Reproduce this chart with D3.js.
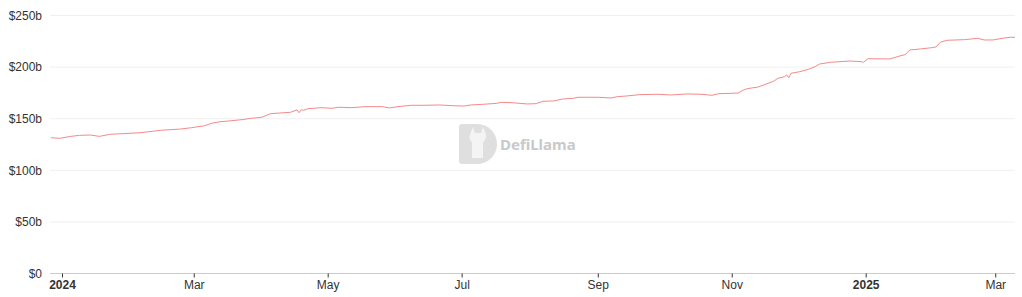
<!DOCTYPE html>
<html>
<head>
<meta charset="utf-8">
<script src="https://cdn.jsdelivr.net/npm/d3@7"></script>
<style>
  body { margin: 0; background: #fff; }
  svg { display: block; font-family: "Noto Sans", sans-serif; }
  .tick text { fill: #333; font-size: 12px; }
</style>
</head>
<body>
<svg width="1022" height="297"></svg>
<script>
// TVL in $b
const dates = [
  '2023-12-27','2023-12-31','2024-01-05','2024-01-09','2024-01-14','2024-01-18','2024-01-23',
  '2024-02-01','2024-02-06','2024-02-15','2024-02-24','2024-02-29','2024-03-06','2024-03-09',
  '2024-03-13','2024-03-17','2024-03-23','2024-03-27','2024-04-01','2024-04-05','2024-04-09',
  '2024-04-14','2024-04-17','2024-04-18','2024-04-19','2024-04-20','2024-04-22','2024-04-28',
  '2024-05-03','2024-05-06','2024-05-12','2024-05-18','2024-05-26','2024-05-29','2024-06-02',
  '2024-06-08','2024-06-13','2024-06-21','2024-06-27','2024-07-02','2024-07-05','2024-07-11',
  '2024-07-17','2024-07-19','2024-07-24','2024-07-31','2024-08-04','2024-08-07','2024-08-12',
  '2024-08-16','2024-08-21','2024-08-23','2024-09-01','2024-09-07','2024-09-10','2024-09-14',
  '2024-09-20','2024-09-28','2024-10-04','2024-10-12','2024-10-18','2024-10-23','2024-10-26',
  '2024-11-04','2024-11-06','2024-11-08','2024-11-13','2024-11-17','2024-11-20','2024-11-22',
  '2024-11-25','2024-11-26','2024-11-27','2024-11-28','2024-12-02','2024-12-06','2024-12-09',
  '2024-12-11','2024-12-16','2024-12-25','2024-12-30','2024-12-31','2025-01-02','2025-01-12',
  '2025-01-17','2025-01-19','2025-01-21','2025-01-26','2025-01-31','2025-02-02','2025-02-04',
  '2025-02-07','2025-02-15','2025-02-21','2025-02-24','2025-02-28','2025-03-05','2025-03-08',
  '2025-03-10'
];
const tvl = [
  131.1,130.5,132.4,133.4,133.7,132.4,134.4,
  135.4,136.0,138.3,139.5,140.8,142.7,145.0,
  146.6,147.3,148.6,149.9,150.9,154.4,155.0,
  155.7,158.0,155.3,158.3,157.7,159.2,160.2,
  159.6,160.6,160.2,161.2,161.2,159.9,161.2,
  162.5,162.5,162.8,162.1,161.8,162.8,163.5,
  164.4,165.4,165.0,163.8,164.1,166.4,166.7,
  168.6,169.3,170.3,170.3,169.6,170.9,171.5,
  172.8,173.2,172.5,173.5,173.2,172.2,173.7,
  174.4,177.0,178.6,180.2,183.4,185.7,188.6,
  190.2,191.9,189.2,193.5,195.1,197.4,200.0,
  202.5,204.2,205.4,204.8,204.2,207.6,207.4,
  210.6,211.6,216.1,217.1,218.3,219.0,223.6,
  225.5,226.1,227.4,225.8,225.8,227.7,228.4,
  228.4
];
const yTicks = [0, 50, 100, 150, 200, 250];
const xTicks = ['2024-01-01','2024-03-01','2024-05-01','2024-07-01','2024-09-01','2024-11-01','2025-01-01','2025-03-01'];

const parse = d3.timeParse('%Y-%m-%d');
const data = dates.map((d, i) => ({date: parse(d), value: tvl[i]}));

const svg = d3.select('svg');
const plotLeft = 50, plotRight = 1015, plotTop = 15, plotBottom = 273;

const xScale = d3.scaleTime()
  .domain(d3.extent(data, d => d.date))
  .range([51, 1015]);

const yScale = d3.scaleLinear()
  .domain([0, 250])
  .range([plotBottom, plotTop]);

// grid lines
svg.append('g')
  .selectAll('line')
  .data(yTicks.slice(1))
  .join('line')
    .attr('x1', plotLeft)
    .attr('x2', plotRight)
    .attr('y1', d => yScale(d) + 0.5)
    .attr('y2', d => yScale(d) + 0.5)
    .attr('stroke', '#f0f0f0');

// y axis labels
const yAxisG = svg.append('g')
  .attr('transform', `translate(${plotLeft}, 0.5)`)
  .call(d3.axisLeft(yScale)
    .tickValues(yTicks)
    .tickSize(0)
    .tickPadding(8)
    .tickFormat(d => d === 0 ? '$0' : `$${d}b`));
yAxisG.select('.domain').remove();

// x axis
const xAxisG = svg.append('g')
  .attr('transform', `translate(0, ${plotBottom + 0.5})`)
  .call(d3.axisBottom(xScale)
    .tickValues(xTicks.map(parse))
    .tickSize(4)
    .tickPadding(3)
    .tickFormat(d => d.getMonth() === 0 ? d3.timeFormat('%Y')(d) : d3.timeFormat('%b')(d)));
xAxisG.select('.domain')
  .attr('d', `M${plotLeft},0H${plotRight}`)
  .attr('stroke', '#ccc');
xAxisG.selectAll('.tick line').attr('stroke', '#333');
xAxisG.selectAll('.tick text')
  .attr('font-weight', d => d.getMonth() === 0 ? 'bold' : 'normal')
  .attr('fill', d => d.getMonth() === 0 ? '#111' : '#333');

// watermark
const wm = svg.append('g')
  .attr('transform', 'translate(459, 124)')
  .attr('opacity', 0.9);
wm.append('path')
  .attr('d', 'M3,0 H18 A20,20 0 0 1 18,40 H3 A3,3 0 0 1 0,37 V3 A3,3 0 0 1 3,0 Z')
  .attr('fill', '#dcdcdc');
wm.append('path')
  .attr('d', 'M12,8 L14,3 L16,9 H22 L24,3 L26,8 C28,12 27,16 24,18 V34 H13 V18 C10,16 10,12 12,8 Z')
  .attr('fill', '#f3f3f3');
wm.append('text')
  .attr('x', 41)
  .attr('y', 26)
  .attr('font-size', 15)
  .attr('font-weight', 'bold')
  .attr('fill', '#c4c4c4')
  .text('DefiLlama');

// line
const line = d3.line()
  .x(d => xScale(d.date))
  .y(d => yScale(d.value));

svg.append('path')
  .datum(data)
  .attr('fill', 'none')
  .attr('stroke', '#f4898a')
  .attr('stroke-width', 1)
  .attr('d', line);
</script>
</body>
</html>
